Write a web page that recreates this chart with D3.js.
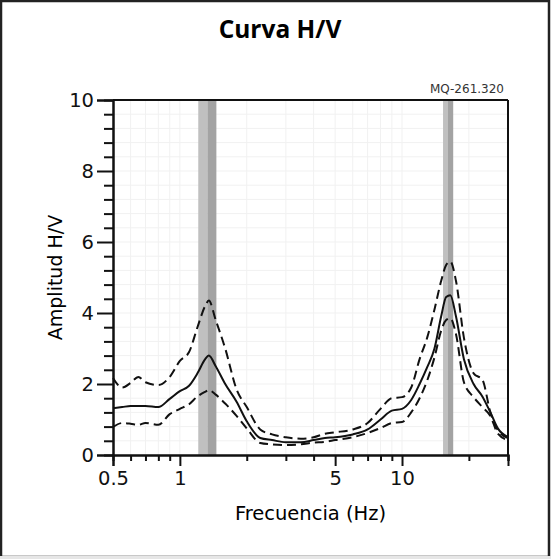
<!DOCTYPE html>
<html>
<head>
<meta charset="utf-8">
<script src="https://cdn.jsdelivr.net/npm/d3@7"></script>
<style>
  body { margin: 0; background: #fff; }
  .tick text { font-family: "DejaVu Sans", Verdana, sans-serif; font-size: 19.5px; fill: #111; }
</style>
</head>
<body>
<div id="chart"></div>
<script>
// Data
var freq = [0.5, 0.55, 0.6, 0.65, 0.7, 0.8, 0.9, 1.0, 1.1, 1.2, 1.3, 1.35, 1.45, 1.6, 1.8, 2.0, 2.3, 2.6, 3.0, 3.5,
            4.0, 4.5, 5.0, 6.0, 7.0, 8.0, 9.0, 10, 11, 12, 13, 14, 15, 15.8, 16.5, 17.5, 19, 21, 23, 25, 27, 30];
var hvMean = [1.32, 1.35, 1.38, 1.38, 1.38, 1.35, 1.58, 1.8, 1.95, 2.3, 2.7, 2.8, 2.5, 2.0, 1.5, 0.95, 0.48, 0.42, 0.36, 0.36,
              0.42, 0.48, 0.5, 0.58, 0.72, 1.0, 1.25, 1.3, 1.55, 2.0, 2.48, 3.0, 3.9, 4.45, 4.5, 3.9, 2.7, 2.0, 1.65, 1.2, 0.75, 0.5];
var hvUpper = [2.17, 1.9, 2.03, 2.2, 2.05, 1.97, 2.2, 2.65, 2.9, 3.6, 4.2, 4.35, 3.8, 3.0, 1.85, 1.35, 0.72, 0.58, 0.5, 0.46,
               0.5, 0.6, 0.64, 0.72, 0.9, 1.3, 1.6, 1.63, 1.9, 2.7, 3.32, 4.1, 4.9, 5.35, 5.45, 4.9, 3.3, 2.3, 2.12, 1.2, 0.7, 0.48];
var hvLower = [0.79, 0.9, 0.88, 0.85, 0.9, 0.85, 1.15, 1.3, 1.43, 1.65, 1.78, 1.83, 1.7, 1.45, 1.1, 0.75, 0.34, 0.3, 0.28, 0.3,
               0.35, 0.37, 0.42, 0.5, 0.62, 0.76, 0.9, 0.93, 1.2, 1.6, 2.11, 2.75, 3.5, 3.8, 3.85, 3.4, 2.05, 1.63, 1.35, 1.1, 0.6, 0.42];

// peak frequency bands (f0 - sigma, f0, f0 + sigma)
var bandLow = [1.21, 15.3];
var bandF0 = [1.33, 16.1];
var bandHigh = [1.46, 17.0];

var xMajor = [0.5, 1, 5, 10];
var xMinor = [0.6, 0.7, 0.8, 0.9, 2, 3, 4, 6, 7, 8, 9, 20, 30];
var yMajor = [0, 2, 4, 6, 8, 10];
var yMinor = [0.4, 0.8, 1.2, 1.6, 2.4, 2.8, 3.2, 3.6, 4.4, 4.8, 5.2, 5.6, 6.4, 6.8, 7.2, 7.6, 8.4, 8.8, 9.2, 9.6];

var svgWidth = 551;
var svgHeight = 559;
var margin = { top: 100, right: 43, bottom: 104, left: 113 };
var width = svgWidth - margin.left - margin.right;
var height = svgHeight - margin.top - margin.bottom;

var svg = d3.select("#chart")
    .append("svg")
    .attr("width", svgWidth)
    .attr("height", svgHeight);

// outer frame
svg.append("rect")
    .attr("x", 1).attr("y", 1)
    .attr("width", svgWidth - 3).attr("height", svgHeight - 3)
    .attr("fill", "none")
    .attr("stroke", "#222")
    .attr("stroke-width", 2.5);
svg.append("line")
    .attr("x1", 0).attr("x2", svgWidth)
    .attr("y1", svgHeight - 1.5).attr("y2", svgHeight - 1.5)
    .attr("stroke", "#e6e6e6").attr("stroke-width", 3);

svg.append("text")
    .attr("x", 280).attr("y", 38)
    .attr("text-anchor", "middle")
    .style("font-family", "'Open Sans', sans-serif")
    .style("font-weight", "700")
    .style("font-size", "24.5px")
    .text("Curva H/V");

var chartGroup = svg.append("g")
    .attr("transform", `translate(${margin.left}, ${margin.top})`);

var xScale = d3.scaleLog().domain([0.5, 30]).range([0, width]);
var yScale = d3.scaleLinear().domain([0, 10]).range([height, 0]);

// grid
chartGroup.append("g")
    .selectAll("line")
    .data(xMinor.concat(xMajor))
    .enter()
    .append("line")
    .attr("x1", d => xScale(d)).attr("x2", d => xScale(d))
    .attr("y1", 0).attr("y2", height)
    .attr("stroke", "#f1f1f1");
chartGroup.append("g")
    .selectAll("line")
    .data(yMinor.concat(yMajor))
    .enter()
    .append("line")
    .attr("x1", 0).attr("x2", width)
    .attr("y1", d => yScale(d)).attr("y2", d => yScale(d))
    .attr("stroke", "#f1f1f1");

// peak bands
chartGroup.selectAll(".bandA")
    .data(bandLow)
    .enter()
    .append("rect")
    .attr("x", d => xScale(d))
    .attr("width", (d, i) => xScale(bandF0[i]) - xScale(d))
    .attr("y", 0).attr("height", height)
    .attr("fill", "#c0c0c0");
chartGroup.selectAll(".bandB")
    .data(bandF0)
    .enter()
    .append("rect")
    .attr("x", d => xScale(d))
    .attr("width", (d, i) => xScale(bandHigh[i]) - xScale(d))
    .attr("y", 0).attr("height", height)
    .attr("fill", "#a3a3a3");

// curves
var line = d3.line()
    .x(d => xScale(d[0]))
    .y(d => yScale(d[1]))
    .curve(d3.curveMonotoneX);

chartGroup.append("path")
    .attr("d", line(d3.zip(freq, hvUpper)))
    .attr("fill", "none").attr("stroke", "#111")
    .attr("stroke-width", 2).attr("stroke-dasharray", "9,5");
chartGroup.append("path")
    .attr("d", line(d3.zip(freq, hvLower)))
    .attr("fill", "none").attr("stroke", "#111")
    .attr("stroke-width", 2).attr("stroke-dasharray", "9,5");
chartGroup.append("path")
    .attr("d", line(d3.zip(freq, hvMean)))
    .attr("fill", "none").attr("stroke", "#111")
    .attr("stroke-width", 2);

// box top / right
chartGroup.append("line")
    .attr("x1", 0).attr("x2", width).attr("y1", 0).attr("y2", 0)
    .attr("stroke", "#111").attr("stroke-width", 2);
chartGroup.append("line")
    .attr("x1", width).attr("x2", width).attr("y1", 0).attr("y2", height)
    .attr("stroke", "#111").attr("stroke-width", 2);

// axes
var xMajorAxis = d3.axisBottom(xScale).tickValues(xMajor).tickSize(11).tickPadding(5).tickFormat(d3.format(""));
var xMinorAxis = d3.axisBottom(xScale).tickValues(xMinor).tickSize(6).tickFormat("");
var yMajorAxis = d3.axisLeft(yScale).tickValues(yMajor).tickSize(16).tickPadding(3).tickFormat(d3.format("d"));
var yMinorAxis = d3.axisLeft(yScale).tickValues(yMinor).tickSize(9).tickFormat("");

chartGroup.append("g").attr("transform", `translate(0, ${height})`).call(xMinorAxis);
chartGroup.append("g").attr("transform", `translate(0, ${height})`).call(xMajorAxis);
chartGroup.append("g").call(yMinorAxis);
chartGroup.append("g").call(yMajorAxis);

chartGroup.selectAll(".domain").attr("stroke", "#111").attr("stroke-width", 2);
chartGroup.selectAll(".tick line").attr("stroke", "#111").attr("stroke-width", 2);

// axis labels
chartGroup.append("text")
    .attr("transform", "rotate(-90)")
    .attr("text-anchor", "middle")
    .attr("x", -height / 2)
    .attr("y", -51)
    .style("font-family", "'DejaVu Sans', Verdana, sans-serif")
    .style("font-size", "19px")
    .text("Amplitud H/V");

chartGroup.append("text")
    .attr("text-anchor", "middle")
    .attr("x", width / 2)
    .attr("y", height + 65)
    .style("font-family", "'DejaVu Sans', Verdana, sans-serif")
    .style("font-size", "19.5px")
    .text("Frecuencia (Hz)");

chartGroup.append("text")
    .attr("text-anchor", "end")
    .attr("x", width - 4)
    .attr("y", -7)
    .style("font-family", "'DejaVu Sans', Verdana, sans-serif")
    .style("font-size", "12px")
    .attr("fill", "#333")
    .text("MQ-261.320");
</script>
</body>
</html>
